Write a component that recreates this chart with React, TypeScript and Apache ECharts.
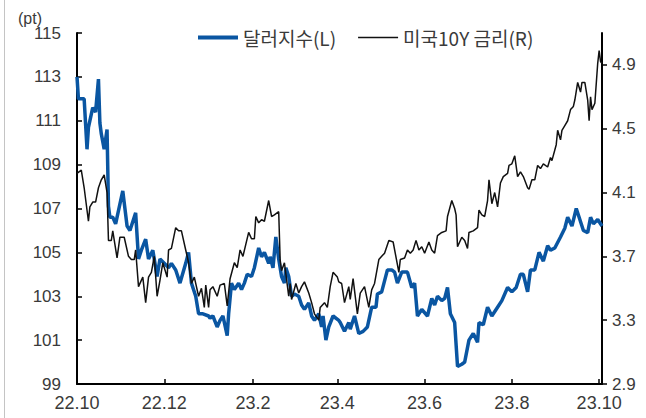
import React, { useEffect, useRef } from 'react';
import * as echarts from 'echarts';

// X-axis tick dates and labels
const tickDates = ['2022-10-01', '2022-12-01', '2023-02-01', '2023-04-01', '2023-06-01', '2023-08-01', '2023-10-01'];
const tickLabels = ['22.10', '22.12', '23.2', '23.4', '23.6', '23.8', '23.10'];
const leftTicks = [99, 101, 103, 105, 107, 109, 111, 113, 115];
const rightTicks = [2.9, 3.3, 3.7, 4.1, 4.5, 4.9];

const seriesNames = ['달러지수(L)', '미국10Y 금리(R)'];

// Dollar index (left axis)
const dollarDates = [
  '2022-10-01', '2022-10-02', '2022-10-06', '2022-10-08', '2022-10-09', '2022-10-12', '2022-10-14', '2022-10-16', '2022-10-17', '2022-10-18', '2022-10-20', '2022-10-22', '2022-10-23', '2022-10-24', '2022-10-26', '2022-10-28', '2022-10-30',
  '2022-11-02', '2022-11-05', '2022-11-07', '2022-11-11', '2022-11-13', '2022-11-15', '2022-11-18', '2022-11-20', '2022-11-23', '2022-11-26', '2022-11-28',
  '2022-12-01', '2022-12-04', '2022-12-06', '2022-12-09', '2022-12-12', '2022-12-16', '2022-12-18', '2022-12-20', '2022-12-23', '2022-12-25', '2022-12-28',
  '2023-01-01', '2023-01-02', '2023-01-04', '2023-01-07', '2023-01-09', '2023-01-11', '2023-01-14', '2023-01-15', '2023-01-17', '2023-01-19', '2023-01-22', '2023-01-24', '2023-01-26', '2023-01-28', '2023-01-31',
  '2023-02-02', '2023-02-05', '2023-02-07', '2023-02-09', '2023-02-12', '2023-02-13', '2023-02-15', '2023-02-17', '2023-02-19', '2023-02-21', '2023-02-23', '2023-02-24', '2023-02-26', '2023-02-28',
  '2023-03-02', '2023-03-05', '2023-03-07', '2023-03-09', '2023-03-12', '2023-03-14', '2023-03-16', '2023-03-19', '2023-03-21', '2023-03-22', '2023-03-24', '2023-03-26', '2023-03-29',
  '2023-04-02', '2023-04-03', '2023-04-06', '2023-04-09', '2023-04-10', '2023-04-13', '2023-04-16', '2023-04-19', '2023-04-22', '2023-04-25', '2023-04-28', '2023-04-29',
  '2023-05-02', '2023-05-06', '2023-05-09', '2023-05-11', '2023-05-13', '2023-05-16', '2023-05-18', '2023-05-20', '2023-05-23', '2023-05-25', '2023-05-27', '2023-05-30',
  '2023-06-03', '2023-06-06', '2023-06-08', '2023-06-10', '2023-06-13', '2023-06-15', '2023-06-17', '2023-06-19', '2023-06-22', '2023-06-24', '2023-06-27', '2023-06-29',
  '2023-07-02', '2023-07-05', '2023-07-08', '2023-07-09', '2023-07-12', '2023-07-15', '2023-07-18', '2023-07-22', '2023-07-25', '2023-07-29',
  '2023-08-01', '2023-08-04', '2023-08-07', '2023-08-09', '2023-08-12', '2023-08-14', '2023-08-17', '2023-08-20', '2023-08-23', '2023-08-26', '2023-08-28', '2023-08-31',
  '2023-09-04', '2023-09-07', '2023-09-09', '2023-09-12', '2023-09-15', '2023-09-17', '2023-09-20', '2023-09-23', '2023-09-25', '2023-09-27', '2023-09-30',
  '2023-10-03',
];
const dollarValues = [
  113.0, 112.0, 112.0, 109.7, 110.7, 111.6, 111.4, 112.9, 110.9, 110.4, 109.7, 110.6, 107.1, 106.6, 106.6, 106.3, 106.9,
  107.8, 106.2, 106.0, 106.8, 104.7, 105.1, 105.6, 104.7, 105.1, 103.9, 104.7,
  104.5, 104.3, 104.5, 104.2, 103.6, 104.5, 105.0, 103.6, 103.0, 102.2, 102.2,
  102.1, 102.0, 102.1, 101.6, 101.9, 102.1, 101.2, 102.2, 103.6, 103.3, 103.6, 103.3, 103.6, 104.0, 103.9,
  104.3, 105.2, 104.8, 105.0, 104.5, 104.8, 104.3, 105.7, 104.7, 103.9, 103.6, 104.3, 103.9, 103.0,
  103.1, 103.0, 102.6, 102.4, 102.7, 102.1, 101.9, 102.2, 101.6, 102.1, 101.0, 101.6, 102.1,
  101.9, 101.8, 101.4, 101.8, 101.5, 102.1, 101.3, 101.4, 101.6, 102.5, 102.5, 103.1,
  103.2, 104.2, 104.2, 104.1, 103.6, 104.1, 104.1, 104.1, 103.4, 103.6, 102.1, 102.4,
  102.1, 102.9, 102.6, 103.0, 102.8, 102.9, 103.4, 102.2, 101.8, 99.8, 99.9, 100.0,
  101.0, 101.3, 100.9, 101.8, 101.7, 102.5, 102.1, 102.5, 102.8, 103.4,
  103.2, 103.4, 104.0, 104.0, 103.2, 104.2, 104.2, 105.0, 104.6, 105.3, 105.1, 105.2,
  105.7, 106.1, 106.6, 106.2, 107.0, 106.6, 106.0, 105.9, 106.6, 106.3, 106.5,
  106.2,
];

// US 10Y yield (right axis)
const rateDates = [
  '2022-10-01', '2022-10-04', '2022-10-06', '2022-10-09', '2022-10-10', '2022-10-12', '2022-10-14', '2022-10-16', '2022-10-18', '2022-10-20', '2022-10-22', '2022-10-23', '2022-10-25', '2022-10-26', '2022-10-29', '2022-10-31',
  '2022-11-03', '2022-11-06', '2022-11-08', '2022-11-10', '2022-11-11', '2022-11-13', '2022-11-16', '2022-11-18', '2022-11-20', '2022-11-22', '2022-11-24', '2022-11-26', '2022-11-28', '2022-11-30',
  '2022-12-03', '2022-12-04', '2022-12-06', '2022-12-09', '2022-12-11', '2022-12-13', '2022-12-16', '2022-12-18', '2022-12-20', '2022-12-22', '2022-12-25', '2022-12-27', '2022-12-29', '2022-12-30',
  '2023-01-01', '2023-01-02', '2023-01-04', '2023-01-07', '2023-01-09', '2023-01-12', '2023-01-14', '2023-01-16', '2023-01-19', '2023-01-21', '2023-01-23', '2023-01-25', '2023-01-29', '2023-01-31',
  '2023-02-02', '2023-02-03', '2023-02-05', '2023-02-07', '2023-02-09', '2023-02-12', '2023-02-14', '2023-02-16', '2023-02-19', '2023-02-20', '2023-02-21', '2023-02-23', '2023-02-26', '2023-02-27', '2023-02-28',
  '2023-03-03', '2023-03-05', '2023-03-07', '2023-03-09', '2023-03-12', '2023-03-14', '2023-03-16', '2023-03-19', '2023-03-20', '2023-03-23', '2023-03-25', '2023-03-27', '2023-03-29',
  '2023-04-01', '2023-04-02', '2023-04-04', '2023-04-06', '2023-04-09', '2023-04-10', '2023-04-12', '2023-04-15', '2023-04-17', '2023-04-20', '2023-04-23', '2023-04-25', '2023-04-27', '2023-04-30',
  '2023-05-02', '2023-05-04', '2023-05-07', '2023-05-10', '2023-05-14', '2023-05-15', '2023-05-18', '2023-05-20', '2023-05-22', '2023-05-24', '2023-05-26', '2023-05-28', '2023-05-30',
  '2023-06-01', '2023-06-04', '2023-06-06', '2023-06-08', '2023-06-10', '2023-06-13', '2023-06-16', '2023-06-17', '2023-06-20', '2023-06-22', '2023-06-23', '2023-06-24', '2023-06-27', '2023-06-29',
  '2023-07-01', '2023-07-02', '2023-07-05', '2023-07-08', '2023-07-09', '2023-07-11', '2023-07-13', '2023-07-15', '2023-07-16', '2023-07-18', '2023-07-20', '2023-07-22', '2023-07-24', '2023-07-26', '2023-07-29', '2023-07-30',
  '2023-08-01', '2023-08-03', '2023-08-05', '2023-08-07', '2023-08-09', '2023-08-12', '2023-08-13', '2023-08-15', '2023-08-17', '2023-08-19', '2023-08-21', '2023-08-23', '2023-08-26', '2023-08-28', '2023-08-29',
  '2023-09-01', '2023-09-02', '2023-09-04', '2023-09-05', '2023-09-07', '2023-09-09', '2023-09-11', '2023-09-13', '2023-09-14', '2023-09-16', '2023-09-18', '2023-09-19', '2023-09-21', '2023-09-23', '2023-09-24', '2023-09-25', '2023-09-26', '2023-09-28', '2023-09-30',
  '2023-10-01', '2023-10-02', '2023-10-03',
];
const rateValues = [
  4.22, 4.24, 4.13, 3.92, 4.01, 4.04, 4.04, 4.13, 4.18, 4.21, 4.10, 3.80, 3.80, 3.86, 3.69, 3.82,
  3.82, 3.70, 3.68, 3.68, 3.74, 3.51, 3.57, 3.41, 3.57, 3.60, 3.70, 3.45, 3.55, 3.66,
  3.57, 3.74, 3.75, 3.88, 3.86, 3.86, 3.74, 3.66, 3.53, 3.57, 3.45, 3.50, 3.38, 3.52,
  3.38, 3.49, 3.51, 3.45, 3.52, 3.53, 3.39, 3.56, 3.66, 3.63, 3.74, 3.70, 3.85, 3.81,
  3.81, 3.95, 3.91, 3.93, 3.92, 4.05, 3.95, 3.96, 3.98, 3.68, 3.61, 3.66, 3.45, 3.53, 3.43,
  3.53, 3.47, 3.51, 3.54, 3.47, 3.41, 3.34, 3.30, 3.38, 3.41, 3.38, 3.51, 3.60,
  3.57, 3.54, 3.53, 3.41, 3.51, 3.43, 3.56, 3.34, 3.47, 3.51, 3.38, 3.49, 3.53, 3.68,
  3.70, 3.72, 3.80, 3.79, 3.60, 3.68, 3.69, 3.74, 3.72, 3.74, 3.80, 3.74, 3.76,
  3.72, 3.79, 3.74, 3.72, 3.83, 3.85, 3.86, 3.95, 4.05, 4.00, 3.96, 3.76, 3.82, 3.80,
  3.75, 3.85, 3.86, 3.88, 3.99, 3.96, 3.95, 4.05, 4.18, 4.03, 4.10, 4.01, 4.16, 4.20, 4.22, 4.27,
  4.28, 4.33, 4.20, 4.23, 4.20, 4.13, 4.12, 4.18, 4.18, 4.27, 4.25, 4.28, 4.26, 4.32, 4.30,
  4.40, 4.49, 4.43, 4.49, 4.52, 4.55, 4.62, 4.64, 4.68, 4.79, 4.73, 4.79, 4.79, 4.68, 4.55, 4.70, 4.62, 4.66, 4.91,
  4.99, 4.92, 4.91,
];

const axisStart = '2022-10-01';
const axisEnd = '2023-10-03';

function ts(s: string): number {
  const [y, m, d] = s.split('-').map(Number);
  return Date.UTC(y, m - 1, d);
}

const FONT = 'Liberation Sans';
const KFONT = 'Noto Sans CJK KR';
const TEXT = '#3a3a3a';
const BLUE = '#0a56a2';
const BLACK = '#111111';

export default function App() {
  const ref = useRef<HTMLDivElement>(null);

  useEffect(() => {
    if (!ref.current) return;
    const chart = echarts.init(ref.current, null, { renderer: 'svg' });
    const tickTs = tickDates.map(ts);

    const option: any = {
      animation: false,
      backgroundColor: '#ffffff',
      grid: { left: 77, right: 44, top: 33, bottom: 34 },
      legend: {
        data: [
          { name: seriesNames[0], icon: 'path://M0,0 L40,0 L40,4 L0,4 Z', itemStyle: { color: BLUE } },
          { name: seriesNames[1], icon: 'path://M0,0 L40,0 L40,1.6 L0,1.6 Z', itemStyle: { color: BLACK } },
        ],
        left: 193,
        top: 23,
        itemWidth: 40,
        itemHeight: 14,
        itemGap: 22,
        symbolKeepAspect: true,
        textStyle: { fontFamily: KFONT, fontSize: 19, color: TEXT },
      },
      graphic: [
        { type: 'text', left: 18, top: 10, style: { text: '(pt)', fontFamily: FONT, fontSize: 16, fill: TEXT } },
        { type: 'line', shape: { x1: 4.5, y1: 0, x2: 4.5, y2: 418 }, style: { stroke: '#c4c4c4', lineWidth: 1 } },
      ],
      xAxis: {
        type: 'value',
        min: ts(axisStart),
        max: ts(axisEnd),
        axisLine: { show: true, lineStyle: { color: '#000', width: 2 } },
        axisTick: { show: true, inside: true, length: 5, customValues: tickTs, lineStyle: { color: '#000', width: 1.5 } },
        axisLabel: {
          customValues: tickTs,
          margin: 10,
          fontFamily: FONT,
          fontSize: 18,
          color: TEXT,
          formatter: (v: number) => {
            const i = tickTs.indexOf(v);
            return i >= 0 ? tickLabels[i] : '';
          },
        },
        splitLine: { show: false },
      },
      yAxis: [
        {
          type: 'value',
          min: 99,
          max: 115,
          position: 'left',
          axisLine: { show: true, lineStyle: { color: '#000', width: 2 } },
          axisTick: { show: true, inside: true, length: 5, customValues: leftTicks, lineStyle: { color: '#000', width: 1.5 } },
          axisLabel: { customValues: leftTicks, margin: 16, fontFamily: FONT, fontSize: 17, color: TEXT },
          splitLine: { show: false },
        },
        {
          type: 'value',
          min: 2.9,
          max: 5.1,
          position: 'right',
          axisLine: { show: true, lineStyle: { color: '#000', width: 2 } },
          axisTick: { show: true, inside: false, length: 5, customValues: rightTicks, lineStyle: { color: '#000', width: 1.5 } },
          axisLabel: {
            customValues: rightTicks,
            margin: 10,
            fontFamily: FONT,
            fontSize: 17,
            color: TEXT,
            formatter: (v: number) => v.toFixed(1),
          },
          splitLine: { show: false },
        },
      ],
      series: [
        {
          name: seriesNames[0],
          type: 'line',
          yAxisIndex: 0,
          symbol: 'none',
          data: dollarDates.map((d, i) => [ts(d), dollarValues[i]]),
          lineStyle: { color: BLUE, width: 3.5 },
          itemStyle: { color: BLUE },
        },
        {
          name: seriesNames[1],
          type: 'line',
          yAxisIndex: 1,
          symbol: 'none',
          data: rateDates.map((d, i) => [ts(d), rateValues[i]]),
          lineStyle: { color: BLACK, width: 1.5 },
          itemStyle: { color: BLACK },
        },
      ],
    };

    chart.setOption(option);
    return () => chart.dispose();
  }, []);

  return (
    <div
      ref={ref}
      style={{ position: 'fixed', left: 0, top: 0, width: 646, height: 418, background: '#fff' }}
    />
  );
}
